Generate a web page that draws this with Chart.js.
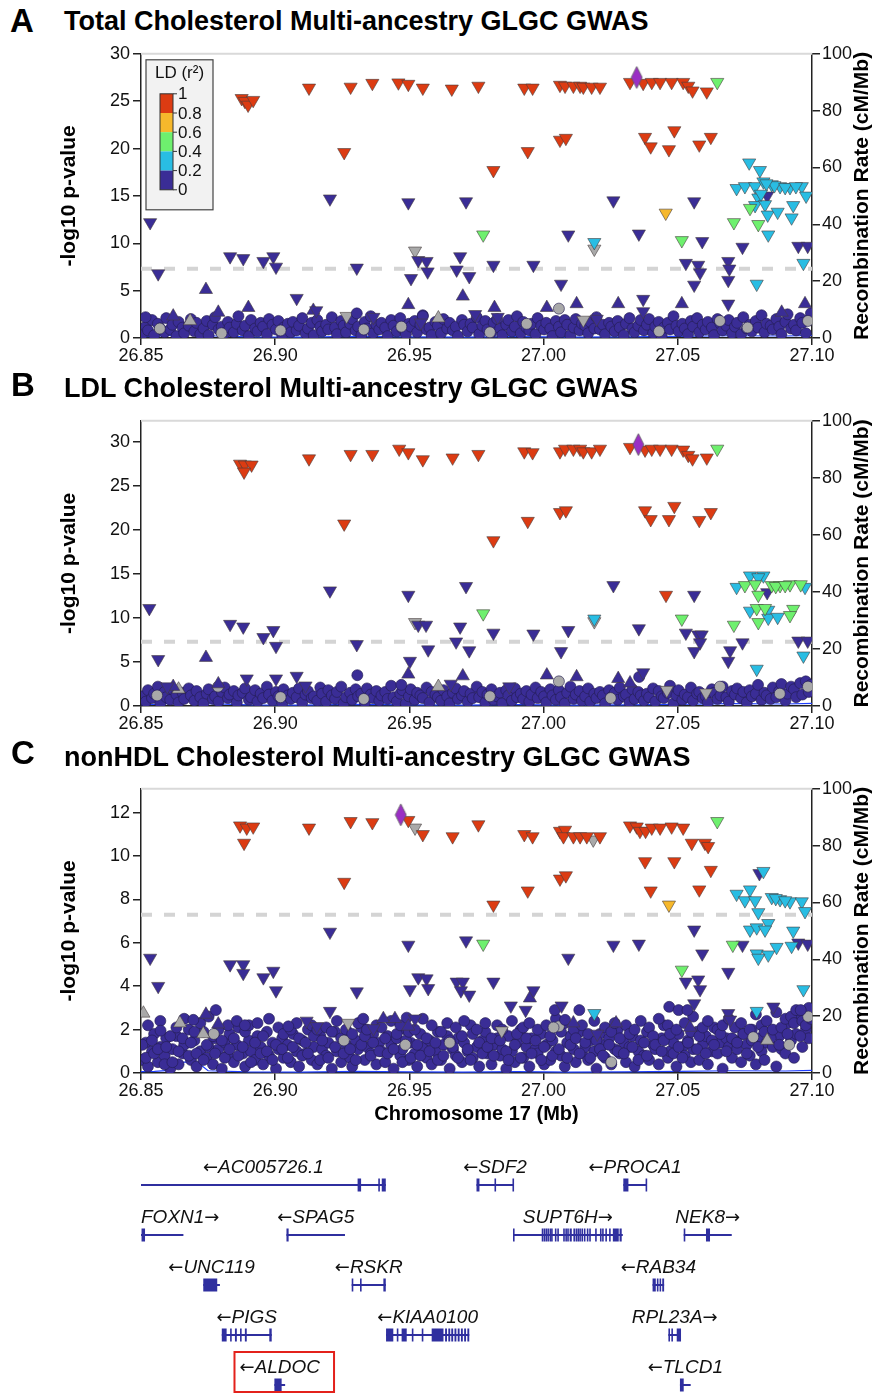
<!DOCTYPE html>
<html>
<head>
<meta charset="utf-8">
<title>Chr17 regional association plots, GLGC multi-ancestry GWAS</title>
<script src="https://cdn.jsdelivr.net/npm/chart.js@4.4.1/dist/chart.umd.min.js"></script>
<style>
  html, body { margin: 0; padding: 0; background: #fff; }
  #page { position: relative; width: 877px; height: 1393px; overflow: hidden;
          font-family: "Liberation Sans", Arial, Helvetica, sans-serif; color: #000; }
  canvas { position: absolute; left: 0; }
  .tag { position: absolute; font-weight: bold; font-size: 33px; line-height: 33px; }
  .title { position: absolute; left: 64px; font-weight: bold; font-size: 27px; line-height: 27px; white-space: nowrap; }
</style>
</head>
<body>
<div id="page">
  <div class="tag" style="left:10px;top:4px">A</div>
  <div class="title" style="top:8px">Total Cholesterol Multi-ancestry GLGC GWAS</div>
  <canvas id="panelA" width="877" height="330" style="top:40px"></canvas>

  <div class="tag" style="left:11px;top:368px">B</div>
  <div class="title" style="top:375px">LDL Cholesterol Multi-ancestry GLGC GWAS</div>
  <canvas id="panelB" width="877" height="330" style="top:407px"></canvas>

  <div class="tag" style="left:11px;top:736px">C</div>
  <div class="title" style="top:744px">nonHDL Cholesterol Multi-ancestry GLGC GWAS</div>
  <canvas id="panelC" width="877" height="355" style="top:775px"></canvas>

  <canvas id="genes" width="877" height="258" style="top:1135px"></canvas>
</div>
<script>
// ---- shared axis values ----
const X_MIN = 26.85;
const X_MAX = 27.10;
const xTickValues = [26.85, 26.90, 26.95, 27.00, 27.05, 27.10];
const recombTicks = [0, 20, 40, 60, 80, 100];
const yTicksA = [0, 5, 10, 15, 20, 25, 30];
const yTicksB = [0, 5, 10, 15, 20, 25, 30];
const yTicksC = [0, 2, 4, 6, 8, 10, 12];
const GWS_LINE = 7.3;

const LD_COLORS = {
  navy: '#3a2d96', cyan: '#29bde3', green: '#6ef06e', orange: '#f6b82c',
  red: '#dc3b12', grey: '#a9a9a9', lead: '#9a2fc4'
};
const ldBandColors = [LD_COLORS.red, LD_COLORS.orange, LD_COLORS.green, LD_COLORS.cyan, LD_COLORS.navy];
const ldBandLabels = ['1', '0.8', '0.6', '0.4', '0.2', '0'];

// recombination rate (cM/Mb), mostly hidden under the points
const recombX = [26.85, 26.855, 26.862, 26.866, 26.871, 26.875, 26.89, 26.91, 26.93, 26.95, 26.97, 26.99, 27.01, 27.03, 27.05, 27.07, 27.09, 27.10];
const recombY = [0.5, 0.6, 1.0, 3.8, 3.8, 0.8, 0.4, 0.3, 0.6, 0.4, 0.3, 0.5, 0.3, 0.4, 0.6, 0.8, 0.7, 0.9];

// ---- background SNP cloud (r2 < 0.2, low -log10 p) ----
const cloudX = [
  26.8505,26.8518,26.8526,26.8541,26.8549,26.8563,26.8572,26.8588,26.8594,26.8609,
  26.8617,26.8632,26.8640,26.8655,26.8661,26.8678,26.8686,26.8699,26.8707,26.8721,
  26.8733,26.8745,26.8752,26.8768,26.8776,26.8789,26.8801,26.8812,26.8824,26.8830,
  26.8846,26.8857,26.8863,26.8879,26.8888,26.8902,26.8910,26.8925,26.8934,26.8946,
  26.8955,26.8969,26.8977,26.8990,26.9003,26.9012,26.9026,26.9031,26.9047,26.9058,
  26.9066,26.9080,26.9089,26.9101,26.9113,26.9122,26.9136,26.9144,26.9157,26.9168,
  26.9175,26.9190,26.9198,26.9211,26.9223,26.9230,26.9246,26.9255,26.9264,26.9279,
  26.9287,26.9300,26.9309,26.9321,26.9334,26.9342,26.9356,26.9365,26.9377,26.9388,
  26.9396,26.9410,26.9419,26.9432,26.9441,26.9453,26.9466,26.9474,26.9487,26.9498,
  26.9505,26.9520,26.9529,26.9541,26.9550,26.9564,26.9575,26.9583,26.9597,26.9606,
  26.9618,26.9627,26.9641,26.9650,26.9662,26.9673,26.9681,26.9696,26.9704,26.9717,
  26.9728,26.9736,26.9751,26.9760,26.9772,26.9783,26.9791,26.9806,26.9814,26.9827,
  26.9838,26.9846,26.9861,26.9869,26.9882,26.9893,26.9901,26.9915,26.9924,26.9936,
  26.9947,26.9955,26.9970,26.9978,26.9991,27.0002,27.0010,27.0025,27.0033,27.0046,
  27.0057,27.0065,27.0079,27.0088,27.0100,27.0112,27.0120,27.0134,27.0143,27.0155,
  27.0166,27.0174,27.0189,27.0197,27.0210,27.0221,27.0229,27.0244,27.0252,27.0265,
  27.0276,27.0284,27.0299,27.0307,27.0320,27.0331,27.0339,27.0353,27.0362,27.0374,
  27.0385,27.0393,27.0408,27.0416,27.0429,27.0440,27.0448,27.0463,27.0471,27.0484,
  27.0495,27.0503,27.0517,27.0526,27.0538,27.0549,27.0557,27.0572,27.0580,27.0593,
  27.0604,27.0612,27.0627,27.0635,27.0648,27.0659,27.0667,27.0681,27.0690,27.0702,
  27.0713,27.0721,27.0736,27.0744,27.0757,27.0768,27.0776,27.0791,27.0799,27.0812,
  27.0823,27.0831,27.0846,27.0854,27.0867,27.0878,27.0886,27.0901,27.0909,27.0922,
  27.0933,27.0941,27.0956,27.0964,27.0977,27.0988,27.0996
];
const cloudYA = [
  0.4,1.2,0.8,1.9,0.3,1.5,1.0,0.6,2.1,0.9, 1.4,0.2,1.7,1.1,0.5,1.3,2.0,0.7,1.6,0.4,
  1.0,1.8,0.3,1.4,2.2,0.9,1.2,0.5,1.7,1.1, 0.6,1.5,2.3,0.8,1.3,0.2,1.9,1.0,0.7,1.6,
  1.2,0.4,2.0,1.4,0.9,1.8,0.3,1.1,1.5,0.6, 1.7,0.8,1.3,2.1,0.5,1.0,1.6,0.3,1.9,1.2,
  0.7,1.4,0.9,2.2,1.1,0.4,1.8,1.3,0.6,1.5, 2.0,0.8,1.2,0.3,1.7,1.0,2.3,0.5,1.4,0.9,
  1.6,1.1,0.2,1.9,1.3,0.7,2.1,1.0,0.4,1.5, 1.2,1.8,0.6,1.4,2.4,0.9,1.1,0.3,1.7,1.3,
  0.5,2.0,1.0,1.6,0.8,1.2,0.2,1.9,1.4,0.7, 1.5,1.1,2.2,0.4,1.3,1.8,0.9,0.6,1.6,2.0,
  1.0,0.3,1.4,1.9,0.7,1.2,2.3,0.5,1.7,1.1, 0.8,1.5,0.4,2.1,1.3,0.9,1.6,1.0,0.2,1.8,
  1.2,0.6,1.9,1.4,0.3,1.1,2.0,0.8,1.5,1.3, 0.5,1.7,1.0,2.2,0.9,1.4,0.4,1.6,1.2,0.7,
  1.8,1.1,0.3,1.5,2.1,1.0,0.6,1.3,1.9,0.8, 1.4,2.0,0.5,1.2,1.7,0.2,1.1,1.6,0.9,2.3,
  1.3,0.7,1.5,1.0,0.4,1.8,1.2,2.1,0.6,1.4, 0.9,1.7,1.1,0.3,2.0,1.5,0.8,1.3,1.9,0.5,
  1.2,1.6,0.4,2.2,1.0,1.4,0.7,1.8,1.1,2.4, 0.6,1.5,1.3,0.9,2.0,1.2,0.4,1.7,2.5,1.0,
  1.4,0.8,2.1,1.6,0.5,1.9,2.6
];
const cloudYB = [
  1.1,0.5,1.8,0.9,1.4,2.2,0.3,1.6,1.0,0.7, 1.9,1.3,0.4,1.5,0.8,2.0,1.2,0.6,1.7,1.0,
  0.3,1.4,1.9,0.8,1.1,0.5,1.6,2.1,0.9,1.3, 1.7,0.4,1.2,1.5,2.0,0.7,1.0,1.8,0.5,1.4,
  0.9,2.2,1.3,0.6,1.6,1.1,0.3,1.9,1.2,0.8, 1.5,1.0,2.0,0.4,1.3,1.7,0.9,1.1,0.6,2.1,
  1.4,0.5,1.8,1.2,0.8,1.6,2.2,0.3,1.0,1.5, 0.7,1.9,1.1,1.4,0.4,2.0,1.3,0.9,1.7,0.6,
  1.2,1.6,0.8,2.3,1.0,0.5,1.4,1.8,0.3,1.1, 1.9,0.7,1.5,1.2,0.9,2.1,0.4,1.6,1.3,1.0,
  0.6,1.8,1.1,0.3,1.5,2.0,0.8,1.2,1.7,0.5, 1.4,0.9,2.2,1.0,1.6,0.4,1.3,1.9,0.7,1.1,
  1.5,0.3,1.8,1.2,0.6,2.0,1.0,1.4,0.8,1.7, 0.5,1.3,2.1,0.9,1.6,1.1,0.4,1.9,1.2,0.7,
  1.8,1.0,0.3,1.5,2.2,0.8,1.3,1.7,0.6,1.1, 2.0,0.5,1.4,0.9,1.6,1.2,0.3,1.8,1.0,1.5,
  0.7,2.1,1.1,1.3,0.4,1.9,0.8,1.6,1.2,0.6, 1.4,1.0,2.0,0.5,1.7,1.1,0.9,1.5,2.3,0.3,
  1.2,1.8,0.7,1.3,1.0,2.1,0.6,1.4,1.6,0.9, 1.1,0.4,1.9,1.5,0.8,1.2,2.2,1.0,0.5,1.7,
  1.3,2.0,0.9,1.6,0.4,1.8,1.1,1.4,2.4,0.7, 1.5,1.2,0.8,2.1,1.0,1.7,2.5,0.6,1.4,2.2,
  1.9,1.0,2.6,1.3,2.8,1.6,2.4
];
const cloudYC = [
  0.6,1.4,0.3,1.0,1.8,0.5,1.2,0.8,1.6,0.2, 1.1,1.7,0.4,0.9,1.3,2.0,0.6,1.5,0.3,1.0,
  1.9,0.7,1.2,0.4,1.6,1.1,0.2,1.4,0.8,1.8, 0.5,1.3,2.1,0.9,0.3,1.5,1.0,0.6,1.7,1.2,
  0.4,1.9,0.8,1.4,0.2,1.1,1.6,0.7,1.3,0.5, 1.8,1.0,0.3,1.5,0.9,2.0,0.6,1.2,0.4,1.7,
  1.1,0.8,1.4,0.2,1.9,1.0,0.5,1.6,1.3,0.7, 0.3,1.5,1.1,2.1,0.6,1.2,0.9,1.8,0.4,1.4,
  1.0,0.5,1.7,1.3,0.2,1.6,0.8,1.1,2.0,0.6, 1.4,0.9,0.3,1.8,1.2,0.7,1.5,0.4,1.0,1.9,
  0.6,1.3,1.7,0.2,1.1,0.8,1.6,0.5,1.4,1.0, 2.2,0.7,1.2,0.3,1.5,1.9,0.9,0.4,1.3,1.6,
  0.8,1.1,0.2,1.7,1.0,0.5,1.4,2.0,0.7,1.2, 0.3,1.6,1.1,0.9,1.8,0.4,1.3,0.6,1.5,1.0,
  2.1,0.8,0.3,1.4,1.7,1.1,0.5,1.9,0.9,1.2, 0.6,1.5,1.0,0.2,1.8,1.3,0.7,1.6,0.4,1.1,
  2.0,0.9,1.4,0.5,1.2,1.7,0.3,1.0,1.5,0.8, 1.9,0.6,1.3,1.1,0.4,1.6,2.2,0.7,1.0,1.4,
  0.3,1.8,1.2,0.8,1.5,0.5,1.1,1.9,0.6,1.3, 1.7,0.4,1.0,2.1,0.9,1.4,0.2,1.6,1.2,0.7,
  1.5,1.1,0.5,1.8,1.3,0.8,2.0,0.4,1.6,1.0, 0.6,1.4,1.9,1.2,0.3,1.7,1.1,0.9,2.3,1.5,
  0.7,1.8,2.5,1.2,2.0,1.6,2.7
];
const cloudYC2 = [
  1.3,0.7,2.2,1.5,0.9,1.1,2.4,0.4,1.2,1.7, 0.5,2.1,1.0,1.6,2.5,0.8,1.4,1.9,0.9,2.3,
  0.6,1.3,2.6,1.7,0.9,2.0,1.5,0.7,2.2,1.1, 1.6,2.4,0.8,1.2,1.9,2.2,0.5,1.4,2.3,0.9,
  1.7,1.0,2.5,0.6,1.3,2.1,1.1,1.8,0.7,2.0, 1.2,2.3,1.6,0.8,1.4,0.9,2.2,1.7,2.0,0.6,
  1.5,2.1,0.7,1.9,1.2,2.4,1.6,0.9,2.0,1.1, 1.8,0.6,2.3,1.3,1.7,2.0,0.8,1.4,2.2,1.0,
  2.1,1.6,0.9,2.4,1.1,1.8,2.2,0.5,1.5,1.9, 0.7,2.0,1.3,0.8,2.5,1.6,1.0,2.2,1.4,0.6,
  1.9,0.8,2.3,1.5,1.2,2.1,0.7,1.7,2.4,1.1, 0.6,1.8,2.0,1.4,0.9,2.3,1.2,1.6,0.8,2.2,
  1.5,2.0,1.0,0.6,2.4,1.3,1.8,0.7,2.1,1.6, 2.3,0.9,1.5,2.0,0.6,1.2,2.2,1.7,0.8,2.5,
  1.1,1.9,2.3,0.7,1.3,2.0,1.6,0.9,2.2,1.4, 1.8,0.7,2.4,1.5,1.1,0.8,2.1,1.3,1.9,2.3,
  1.0,1.6,0.9,2.2,1.8,1.2,2.0,0.6,2.4,1.4, 0.8,2.1,1.7,1.3,2.5,1.0,1.5,2.2,1.8,0.9,
  2.0,1.2,0.7,2.3,1.4,1.9,2.6,1.1,1.7,2.1, 0.9,2.4,1.5,1.3,2.0,1.8,2.2,1.0,2.5,1.6,
  2.1,1.4,2.3,1.8,0.9,2.0,1.5,2.7,1.2,2.2, 1.9,2.4,1.6,2.0,2.8,1.3,2.1,2.5,1.8,2.6,
  2.3,2.9,1.7,2.4,2.2,3.0,2.5
];

// ---- Panel A: Total cholesterol ----
const leadA = [[27.0347, 27.5]];
const redA = [[26.8875,25.3],[26.8887,25.0],[26.8899,24.6],[26.8918,25.1],[26.9126,26.4],[26.9281,26.5],[26.9362,26.9],[26.9459,26.95],[26.9496,26.8],[26.9550,26.4],[26.9658,26.3],[26.9757,26.6],[26.9257,19.6],[26.9928,26.4],[26.9959,26.4],[27.0061,26.7],[27.0080,26.6],[27.0111,26.6],[27.0136,26.6],[27.0148,26.5],[27.0179,26.5],[27.0210,26.5],[27.0322,27.0],[27.0371,26.9],[27.0403,27.0],[27.0434,27.0],[27.0477,27.0],[27.0520,27.0],[27.0539,26.6],[27.0555,26.1],[27.0608,26.0],[26.9813,17.7],[26.9941,19.7],[27.0061,20.9],[27.0083,21.1],[27.0378,21.2],[27.0399,20.2],[27.0467,19.9],[27.0487,21.9],[27.0580,20.4],[27.0623,21.2]];
const orangeA = [[27.0455,13.2]];
const greenA = [[26.9775,10.9],[27.0769,13.7],[27.0709,12.2],[27.0800,12.0],[27.0515,10.3],[27.0647,27.0]];
const cyanA = [[27.0766,18.5],[27.0806,17.7],[27.0719,15.8],[27.0750,16.0],[27.0788,16.0],[27.0819,16.5],[27.0850,16.2],[27.0881,16.0],[27.0918,15.9],[27.0962,16.0],[27.0978,15.0],[27.0800,14.8],[27.0788,14.0],[27.0825,14.1],[27.0835,13.0],[27.0872,13.3],[27.0930,14.0],[27.0924,12.7],[27.0837,10.9],[27.0968,7.9],[27.0794,5.7],[27.0189,10.1],[27.0860,16.1],[27.0900,15.9],[27.0940,16.0],[27.0830,16.3],[27.0810,15.2]];
const navyDownA = [[26.8534,12.2],[26.8564,6.8],[26.8832,8.6],[26.8881,8.4],[26.8956,8.1],[26.8993,8.6],[26.9003,7.5],[26.9204,14.7],[26.9304,7.4],[26.9080,4.2],[26.9496,14.3],[26.9711,14.4],[26.9533,8.2],[26.9564,8.1],[26.9568,7.0],[26.9506,6.3],[26.9689,8.6],[26.9676,7.2],[26.9723,6.5],[26.9153,2.9],[26.9366,2.2],[26.9543,1.6],[26.9745,2.5],[27.0260,14.5],[27.0561,14.4],[27.0833,15.0],[27.0092,10.9],[27.0355,11.0],[27.0591,10.2],[27.0741,9.6],[27.0949,9.7],[27.0984,9.7],[26.9813,7.7],[26.9962,7.7],[27.0065,5.7],[27.0530,7.9],[27.0576,7.7],[27.0583,6.9],[27.0561,5.6],[27.0688,8.1],[27.0692,7.3],[27.0688,6.1],[27.0688,3.6],[27.0371,4.1],[26.9829,2.2],[27.0198,2.0],[27.0371,2.8]];
const navyUpA = [[26.8742,5.1],[26.9496,3.5],[26.9699,4.4],[26.8900,3.2],[26.8788,2.7],[26.8620,2.3],[26.9142,2.9],[26.9817,3.2],[27.0123,3.6],[27.0012,3.2],[27.0515,3.6],[27.0974,3.6],[27.0278,3.6],[27.0887,2.7]];
const navyCircleA = [[26.9304,2.6],[26.9550,2.3],[26.8517,2.2]];
const greyDownA = [[26.9521,9.2],[27.0189,9.4],[26.9266,2.3],[27.0148,1.9]];
const greyUpA = [[26.8683,1.8],[26.9608,2.1]];
const greyCircleA = [[27.0057,3.1],[26.9937,1.5],[27.0657,1.8],[27.0985,1.8],[26.8570,1.0],[26.9020,0.8],[26.9470,1.2],[26.9800,0.6],[27.0430,0.7],[26.8800,0.5],[26.9330,0.9],[27.0760,1.1]];

// ---- Panel B: LDL cholesterol ----
const leadB = [[27.0353, 29.7]];
const redB = [[26.8869,27.5],[26.8887,27.4],[26.8912,27.4],[26.8884,26.6],[26.9126,28.1],[26.9281,28.6],[26.9362,28.6],[26.9462,29.2],[26.9496,28.8],[26.9550,28.0],[26.9661,28.2],[26.9757,28.6],[26.9257,20.7],[26.9928,28.9],[26.9959,28.8],[27.0061,28.9],[27.0080,29.2],[27.0111,29.2],[27.0136,29.2],[27.0148,28.9],[27.0179,28.9],[27.0210,29.2],[27.0322,29.4],[27.0378,29.1],[27.0403,29.2],[27.0434,29.2],[27.0477,29.2],[27.0520,29.1],[27.0539,28.5],[27.0555,28.1],[27.0608,28.2],[26.9813,18.8],[26.9941,21.0],[27.0061,22.0],[27.0083,22.2],[27.0378,22.2],[27.0399,21.2],[27.0467,21.2],[27.0487,22.7],[27.0580,21.1],[27.0623,22.0],[27.0456,12.6]];
const orangeB = [];
const greenB = [[26.9775,10.5],[27.0515,9.9],[27.0709,9.2],[27.0750,13.7],[27.0788,13.8],[27.0800,12.6],[27.0850,13.7],[27.0881,13.7],[27.0918,13.8],[27.0958,13.8],[27.0794,11.1],[27.0825,11.1],[27.0800,9.5],[27.0930,11.0],[27.0918,10.3],[27.0647,29.2],[27.0865,13.6],[27.0900,13.7]];
const cyanB = [[27.0189,9.9],[27.0769,14.8],[27.0819,14.8],[27.0719,13.5],[27.0974,13.5],[27.0769,10.8],[27.0837,10.9],[27.0837,10.0],[27.0872,10.1],[27.0968,5.7],[27.0794,4.2],[27.0800,14.6]];
const navyDownB = [[26.8531,11.1],[26.8564,5.3],[26.8832,9.3],[26.8881,9.0],[26.8956,7.8],[26.8993,8.6],[26.9003,6.8],[26.9204,13.1],[26.9304,7.0],[26.9080,3.4],[26.9496,12.6],[26.9711,13.6],[26.9533,9.2],[26.9562,9.2],[26.9570,6.4],[26.9502,5.1],[26.9689,9.0],[26.9674,7.3],[26.9723,6.3],[26.9003,3.1],[26.8894,3.1],[26.9113,2.3],[26.8598,2.2],[26.9654,2.5],[27.0260,13.7],[27.0561,12.6],[27.0833,12.9],[26.9813,8.3],[26.9962,8.2],[27.0092,8.6],[27.0065,6.2],[27.0355,8.8],[27.0530,8.3],[27.0576,8.1],[27.0589,8.1],[27.0583,7.2],[27.0561,6.2],[27.0695,6.3],[27.0688,5.1],[27.0741,7.2],[27.0949,7.4],[27.0984,7.4],[27.0371,3.8],[26.9872,2.2]];
const navyUpB = [[26.8742,5.5],[26.9496,3.6],[26.9699,3.4],[27.0012,3.5],[27.0123,3.3],[27.0278,3.1],[27.0322,2.6],[26.8620,2.2],[26.8788,2.5]];
const navyCircleB = [[26.9306,3.5],[27.0356,3.3],[26.9470,2.4]];
const greyDownB = [[26.9521,9.5],[27.0189,9.6],[27.0459,1.8],[27.0605,1.5]];
const greyUpB = [[26.9608,2.2],[26.8640,1.9]];
const greyCircleB = [[26.8787,2.2],[26.8560,1.2],[27.0057,2.8],[27.0985,2.2],[27.0657,2.2],[26.9020,1.0],[26.9330,0.8],[26.9800,1.1],[27.0250,0.9],[27.0880,1.4]];

// ---- Panel C: nonHDL cholesterol ----
const leadC = [[26.9468, 11.9]];
const redC = [[26.8869,11.4],[26.8894,11.3],[26.8918,11.35],[26.8884,10.6],[26.9126,11.3],[26.9281,11.6],[26.9362,11.55],[26.9496,11.65],[26.9550,11.0],[26.9661,10.9],[26.9757,11.45],[26.9257,8.8],[26.9928,11.0],[26.9959,10.9],[27.0061,11.15],[27.0080,11.2],[27.0074,10.9],[27.0111,10.9],[27.0136,10.9],[27.0161,10.9],[27.0210,10.9],[27.0322,11.4],[27.0347,11.35],[27.0359,11.15],[27.0380,11.15],[27.0403,11.3],[27.0434,11.3],[27.0477,11.35],[27.0520,11.3],[27.0552,10.6],[27.0601,10.6],[27.0613,10.45],[26.9813,7.75],[26.9941,8.4],[27.0061,8.95],[27.0083,9.1],[27.0378,9.75],[27.0399,8.4],[27.0487,9.75],[27.0580,8.45],[27.0623,9.35]];
const orangeC = [[27.0467,7.75]];
const greenC = [[26.9775,5.95],[27.0515,4.75],[27.0705,5.9],[27.0647,11.6]];
const cyanC = [[27.0819,9.3],[27.0719,8.25],[27.0769,8.45],[27.0750,7.95],[27.0788,7.95],[27.0850,8.1],[27.0881,8.0],[27.0918,7.9],[27.0962,7.9],[27.0974,7.45],[27.0800,7.4],[27.0837,6.9],[27.0769,6.6],[27.0794,6.7],[27.0825,6.6],[27.0930,6.55],[27.0868,5.8],[27.0924,5.85],[27.0794,5.5],[27.0837,5.45],[27.0800,5.3],[27.0968,3.85],[27.0794,2.85],[27.0189,2.75],[27.0865,8.05],[27.0900,7.95]];
const navyDownC = [[26.8534,5.3],[26.8564,4.0],[26.8832,5.0],[26.8881,5.0],[26.8881,4.6],[26.8956,4.4],[26.8993,4.7],[26.9003,3.8],[26.9204,6.5],[26.9304,3.75],[26.9204,2.85],[26.9496,5.9],[26.9711,6.1],[26.9502,3.85],[26.9533,4.4],[26.9564,4.35],[26.9570,3.9],[26.9676,4.2],[26.9699,4.2],[26.9692,3.8],[26.9723,3.6],[26.9521,2.5],[26.9117,2.4],[26.9155,2.15],[26.9366,2.05],[27.0260,5.9],[27.0355,5.95],[27.0561,6.6],[27.0092,5.3],[27.0591,5.5],[27.0741,5.9],[27.0949,6.0],[27.0984,5.95],[27.0688,4.65],[26.9813,4.2],[26.9962,3.8],[27.0530,4.2],[27.0576,4.3],[27.0583,3.85],[27.0561,3.2],[26.9878,3.1],[26.9933,2.9],[27.0067,3.1],[27.0856,3.05],[27.0688,2.75],[27.0695,2.45],[27.0200,1.8],[27.0804,9.2]];
const navyUpC = [[26.8742,2.7],[26.8788,2.25],[26.9403,2.5],[26.9446,2.5],[26.9496,2.15],[26.9949,3.45],[27.0545,2.1],[27.0270,2.3],[27.0111,2.3]];
const navyCircleC = [[26.8779,2.9],[26.8695,2.45],[26.9328,2.5],[26.9490,2.55],[26.9049,2.15],[26.8887,2.2],[26.8573,1.95],[27.0042,2.9],[27.0133,2.9],[27.0468,3.05],[27.0503,2.9],[27.0536,2.9],[27.0958,2.9],[27.0080,2.45]];
const greyDownC = [[26.9521,11.3],[27.0185,10.75],[26.9272,2.3],[26.9844,1.95]];
const greyUpC = [[26.8509,2.75],[26.8645,2.3],[26.8732,1.8],[27.0833,1.5]];
const greyCircleC = [[27.0986,2.6],[27.0057,2.15],[27.0037,2.1],[27.0781,1.65],[27.0915,1.3],[26.8771,1.8],[26.9256,1.5],[26.9485,1.3],[27.0252,0.5],[26.9650,1.4]];

// ---- gene track ----
const geneNames   = ['AC005726.1','SDF2','PROCA1','FOXN1','SPAG5','SUPT6H','NEK8','UNC119','RSKR','RAB34','PIGS','KIAA0100','RPL23A','ALDOC','TLCD1'];
const geneStrands = [-1,-1,-1,1,-1,1,1,-1,-1,-1,-1,-1,1,-1,-1];
const geneRows    = [1,1,1,2,2,2,2,3,3,3,4,4,4,5,5];
const geneStarts  = [26.8500,26.9750,27.0297,26.8500,26.9042,26.9886,27.0522,26.8732,26.9285,27.0406,26.8801,26.9413,27.0465,26.8997,27.0508];
const geneEnds    = [26.9412,26.9888,27.0384,26.8658,26.9260,27.0295,27.0701,26.8794,26.9412,27.0449,26.8987,26.9723,27.0512,26.9037,27.0548];
const geneExons = [
  [[26.9307,26.9320],[26.9384,26.9390],[26.9397,26.9412]],
  [[26.9750,26.9761],[26.9817,26.9821],[26.9884,26.9888]],
  [[27.0297,27.0316],[27.0380,27.0384]],
  [[26.8502,26.8515]],
  [[26.9042,26.9050]],
  [[26.9886,26.9889],[26.9993,26.9997],[27.0000,27.0004],[27.0007,27.0011],[27.0014,27.0018],[27.0022,27.0026],[27.0028,27.0031],[27.0042,27.0046],[27.0051,27.0055],[27.0073,27.0077],[27.0081,27.0084],[27.0088,27.0092],[27.0097,27.0105],[27.0111,27.0115],[27.0119,27.0122],[27.0126,27.0130],[27.0133,27.0137],[27.0141,27.0145],[27.0150,27.0154],[27.0161,27.0164],[27.0170,27.0173],[27.0192,27.0195],[27.0210,27.0213],[27.0218,27.0221],[27.0230,27.0233],[27.0244,27.0247],[27.0258,27.0280],[27.0283,27.0291]],
  [[27.0522,27.0526],[27.0605,27.0620]],
  [[26.8732,26.8784]],
  [[26.9285,26.9291],[26.9316,26.9322],[26.9403,26.9412]],
  [[27.0406,27.0418],[27.0422,27.0428],[27.0432,27.0437],[27.0442,27.0449]],
  [[26.8801,26.8819],[26.8832,26.8838],[26.8850,26.8857],[26.8869,26.8875],[26.8887,26.8894],[26.8978,26.8987]],
  [[26.9413,26.9440],[26.9453,26.9459],[26.9471,26.9490],[26.9509,26.9515],[26.9546,26.9552],[26.9583,26.9627],[26.9633,26.9640],[26.9645,26.9652],[26.9656,26.9663],[26.9668,26.9675],[26.9680,26.9687],[26.9692,26.9699],[26.9704,26.9711],[26.9716,26.9723]],
  [[27.0465,27.0470],[27.0476,27.0480],[27.0496,27.0512]],
  [[26.8997,26.9024]],
  [[27.0508,27.0522]]
];
const highlightGene = 'ALDOC';

const FONT = '"Liberation Sans", Arial, Helvetica, sans-serif';
const ARROW_FONT = '"DejaVu Sans", "Liberation Sans", sans-serif';
const LEFT_TITLE = '-log10 p-value';
const RIGHT_TITLE = 'Recombination Rate (cM/Mb)';
const X_TITLE = 'Chromosome 17 (Mb)';
const GENE_COLOR = '#2f2f9f';
const TICK_FONT = { size: 18 };

Chart.defaults.font.family = FONT;
Chart.defaults.color = '#111';

function pts(list) {
  return list.map(([x, y]) => ({ x, y }));
}

function makeLeadMarker() {
  const c = document.createElement('canvas');
  c.width = 13;
  c.height = 24;
  const g = c.getContext('2d');
  g.beginPath();
  g.moveTo(6.5, 1); g.lineTo(12, 12); g.lineTo(6.5, 23); g.lineTo(1, 12);
  g.closePath();
  g.fillStyle = LD_COLORS.lead;
  g.fill();
  g.strokeStyle = '#5a5a5a';
  g.lineWidth = 0.8;
  g.stroke();
  return c;
}
const leadMarker = makeLeadMarker();

function markerSet(data, color, shape, order) {
  let style = 'triangle';
  let radius = 7.6;
  if (shape === 'circle') { style = 'circle'; radius = 5.5; }
  if (shape === 'lead') { style = leadMarker; radius = 10; }
  return {
    data,
    order,
    pointStyle: style,
    pointRotation: shape === 'down' ? 180 : 0,
    pointRadius: radius,
    pointBackgroundColor: color,
    pointBorderColor: shape === 'circle' ? 'rgba(35,28,80,0.9)' : 'rgba(70,60,60,0.85)',
    pointBorderWidth: 0.7,
    clip: { left: 0, top: 20, right: 0, bottom: 0 }
  };
}

function axisBase(tickLength) {
  return {
    grid: { drawOnChartArea: false, drawTicks: true, tickLength, color: '#222', lineWidth: 1.5 },
    border: { display: true, color: '#222', width: 1.5 }
  };
}

// light grey top edge + right-hand title reading bottom-to-top
const panelFrame = {
  id: 'panelFrame',
  beforeDatasetsDraw(chart) {
    const { ctx, chartArea: a } = chart;
    ctx.save();
    ctx.strokeStyle = '#d9d9d9';
    ctx.lineWidth = 2;
    ctx.beginPath();
    ctx.moveTo(a.left, a.top);
    ctx.lineTo(a.right, a.top);
    ctx.stroke();
    ctx.restore();
  },
  afterDraw(chart) {
    const { ctx, chartArea: a } = chart;
    ctx.save();
    ctx.translate(a.right + 50, (a.top + a.bottom) / 2);
    ctx.rotate(-Math.PI / 2);
    ctx.font = 'bold 21px ' + FONT;
    ctx.fillStyle = '#000';
    ctx.textAlign = 'center';
    ctx.textBaseline = 'middle';
    ctx.fillText(RIGHT_TITLE, 0, 0);
    ctx.restore();
  }
};

const ldLegend = {
  id: 'ldLegend',
  afterDatasetsDraw(chart) {
    const { ctx, chartArea: a } = chart;
    const x0 = a.left + 5, y0 = a.top + 6, w = 67, h = 150;
    ctx.save();
    ctx.fillStyle = '#f2f2f2';
    ctx.fillRect(x0, y0, w, h);
    ctx.strokeStyle = '#444';
    ctx.lineWidth = 1.2;
    ctx.strokeRect(x0, y0, w, h);

    ctx.fillStyle = '#111';
    ctx.font = '17px ' + FONT;
    ctx.textAlign = 'center';
    ctx.textBaseline = 'middle';
    ctx.fillText('LD (r\u00b2)', x0 + w / 2, y0 + 14);

    const bx = x0 + 14, by = y0 + 34, bw = 13, seg = 19.2;
    ldBandColors.forEach((c, i) => {
      ctx.fillStyle = c;
      ctx.fillRect(bx, by + i * seg, bw, seg);
    });
    ctx.strokeStyle = '#333';
    ctx.lineWidth = 1;
    ctx.strokeRect(bx, by, bw, seg * ldBandColors.length);

    ctx.fillStyle = '#111';
    ctx.textAlign = 'left';
    ldBandLabels.forEach((t, i) => {
      const yy = by + i * seg;
      ctx.beginPath();
      ctx.moveTo(bx + bw, yy);
      ctx.lineTo(bx + bw + 4, yy);
      ctx.stroke();
      ctx.fillText(t, bx + bw + 5, yy + 1);
    });
    ctx.restore();
  }
};

function buildPanel(id, p) {
  const cloudSets = p.cloud.map(ys => markerSet(cloudX.map((x, i) => ({ x, y: ys[i] })), LD_COLORS.navy, 'circle', 7));
  const datasets = [
    markerSet(pts(p.lead), LD_COLORS.lead, 'lead', 0),
    markerSet(pts(p.red), LD_COLORS.red, 'down', 1),
    markerSet(pts(p.orange), LD_COLORS.orange, 'down', 2),
    markerSet(pts(p.green), LD_COLORS.green, 'down', 3),
    markerSet(pts(p.cyan), LD_COLORS.cyan, 'down', 4),
    markerSet(pts(p.navyDown), LD_COLORS.navy, 'down', 5),
    markerSet(pts(p.navyUp), LD_COLORS.navy, 'up', 5),
    markerSet(pts(p.navyCircle), LD_COLORS.navy, 'circle', 5),
    markerSet(pts(p.greyDown), LD_COLORS.grey, 'down', 6),
    markerSet(pts(p.greyUp), LD_COLORS.grey, 'up', 6),
    markerSet(pts(p.greyCircle), LD_COLORS.grey, 'circle', 6),
    ...cloudSets,
    {
      data: [{ x: X_MIN, y: GWS_LINE }, { x: X_MAX, y: GWS_LINE }],
      order: 8, showLine: true, pointRadius: 0,
      borderColor: '#d4d4d4', borderWidth: 4, borderDash: [11, 12], clip: 0
    },
    {
      data: recombX.map((x, i) => ({ x, y: recombY[i] })),
      yAxisID: 'y2', order: 9, showLine: true, pointRadius: 0,
      borderColor: '#1f3fff', borderWidth: 1.2, clip: 0
    }
  ];

  const xAxis = Object.assign(axisBase(7), {
    type: 'linear', min: X_MIN, max: X_MAX, position: 'bottom',
    afterBuildTicks: s => { s.ticks = xTickValues.map(v => ({ value: v })); },
    afterFit: s => { s.height = p.bottom; },
    ticks: { callback: v => v.toFixed(2), autoSkip: false, maxRotation: 0, padding: 0, font: TICK_FONT, color: '#111' },
    title: p.xTitle
      ? { display: true, text: X_TITLE, font: { size: 20, weight: 'bold' }, color: '#000', padding: { top: 0, bottom: 4 } }
      : { display: false }
  });
  const yAxis = Object.assign(axisBase(8), {
    type: 'linear', min: 0, max: p.yMax, position: 'left',
    afterBuildTicks: s => { s.ticks = p.yTicks.map(v => ({ value: v })); },
    afterFit: s => { s.width = 141; },
    ticks: { font: TICK_FONT, color: '#111', padding: 3 },
    title: { display: true, text: LEFT_TITLE, font: { size: 21, weight: 'bold' }, color: '#000', padding: { top: 57, bottom: 0 } }
  });
  const y2Axis = Object.assign(axisBase(8), {
    type: 'linear', min: 0, max: 100, position: 'right',
    afterBuildTicks: s => { s.ticks = recombTicks.map(v => ({ value: v })); },
    afterFit: s => { s.width = 65; },
    ticks: { font: TICK_FONT, color: '#111', padding: 2 }
  });

  return new Chart(document.getElementById(id), {
    type: 'scatter',
    data: { datasets },
    options: {
      responsive: false,
      animation: false,
      events: [],
      layout: { padding: { left: 0, right: 0, top: 8, bottom: 0 } },
      scales: { x: xAxis, y: yAxis, y2: y2Axis },
      plugins: { legend: { display: false }, tooltip: { enabled: false } }
    },
    plugins: p.legend ? [panelFrame, ldLegend] : [panelFrame]
  });
}

buildPanel('panelA', {
  yMax: 30, yTicks: yTicksA, bottom: 32, legend: true, xTitle: false,
  lead: leadA, red: redA, orange: orangeA, green: greenA, cyan: cyanA,
  navyDown: navyDownA, navyUp: navyUpA, navyCircle: navyCircleA,
  greyDown: greyDownA, greyUp: greyUpA, greyCircle: greyCircleA,
  cloud: [cloudYA]
});
buildPanel('panelB', {
  yMax: 32.4, yTicks: yTicksB, bottom: 31, legend: false, xTitle: false,
  lead: leadB, red: redB, orange: orangeB, green: greenB, cyan: cyanB,
  navyDown: navyDownB, navyUp: navyUpB, navyCircle: navyCircleB,
  greyDown: greyDownB, greyUp: greyUpB, greyCircle: greyCircleB,
  cloud: [cloudYB]
});
buildPanel('panelC', {
  yMax: 13.1, yTicks: yTicksC, bottom: 57, legend: false, xTitle: true,
  lead: leadC, red: redC, orange: orangeC, green: greenC, cyan: cyanC,
  navyDown: navyDownC, navyUp: navyUpC, navyCircle: navyCircleC,
  greyDown: greyDownC, greyUp: greyUpC, greyCircle: greyCircleC,
  cloud: [cloudYC2, cloudYC]
});

// genes drawn through the chart's own x/y scales
const geneTrack = {
  id: 'geneTrack',
  afterDraw(chart) {
    const { ctx, chartArea: a } = chart;
    const xs = chart.scales.x, ys = chart.scales.y;
    ctx.save();
    geneNames.forEach((name, i) => {
      const yy = ys.getPixelForValue(geneRows[i]);
      const x1 = Math.max(a.left, xs.getPixelForValue(geneStarts[i]));
      const x2 = Math.min(a.right, xs.getPixelForValue(geneEnds[i]));
      ctx.strokeStyle = GENE_COLOR;
      ctx.lineWidth = 2;
      ctx.beginPath();
      ctx.moveTo(x1, yy);
      ctx.lineTo(x2, yy);
      ctx.stroke();
      ctx.fillStyle = GENE_COLOR;
      geneExons[i].forEach(([s, e]) => {
        const ex1 = xs.getPixelForValue(s);
        const ex2 = xs.getPixelForValue(e);
        ctx.fillRect(ex1, yy - 6.5, Math.max(1.6, ex2 - ex1), 13);
      });

      // label: italic name plus a plain strand arrow
      const arrow = geneStrands[i] < 0 ? '\u2190' : '\u2192';
      ctx.font = 'italic 19px ' + FONT;
      const nw = ctx.measureText(name).width;
      ctx.font = '18px ' + ARROW_FONT;
      const aw = ctx.measureText(arrow).width;
      const tw = nw + aw;
      let lx = (x1 + x2) / 2 - tw / 2;
      lx = Math.max(a.left, Math.min(a.right - tw, lx));
      const by = yy - 12;
      ctx.fillStyle = '#111';
      ctx.textAlign = 'left';
      ctx.textBaseline = 'alphabetic';
      if (geneStrands[i] < 0) {
        ctx.font = '18px ' + ARROW_FONT;
        ctx.fillText(arrow, lx, by);
        ctx.font = 'italic 19px ' + FONT;
        ctx.fillText(name, lx + aw, by);
      } else {
        ctx.font = 'italic 19px ' + FONT;
        ctx.fillText(name, lx, by);
        ctx.font = '18px ' + ARROW_FONT;
        ctx.fillText(arrow, lx + nw, by);
      }

      if (name === highlightGene) {
        ctx.strokeStyle = '#e3211b';
        ctx.lineWidth = 2;
        const top = yy - 33;
        ctx.strokeRect(lx - 5, top, tw + 19, chart.height - 1 - top);
      }
    });
    ctx.restore();
  }
};

new Chart(document.getElementById('genes'), {
  type: 'scatter',
  data: { datasets: [] },
  options: {
    responsive: false,
    animation: false,
    events: [],
    layout: { padding: { left: 141, right: 65, top: 0, bottom: 0 } },
    scales: {
      x: { type: 'linear', min: X_MIN, max: X_MAX, display: false },
      y: { type: 'linear', min: 0, max: 5.16, reverse: true, display: false }
    },
    plugins: { legend: { display: false }, tooltip: { enabled: false } }
  },
  plugins: [geneTrack]
});
</script>
</body>
</html>
